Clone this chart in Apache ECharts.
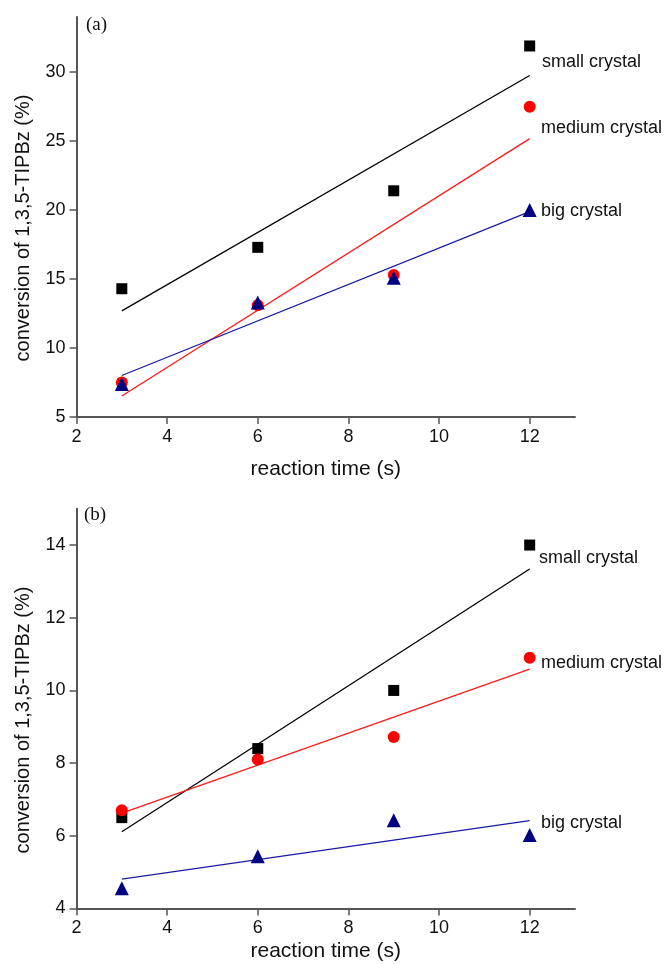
<!DOCTYPE html>
<html>
<head>
<meta charset="utf-8">
<script src="https://cdn.jsdelivr.net/npm/echarts@6/dist/echarts.min.js"></script>
<style>
  html, body { margin: 0; padding: 0; background: #fff; }
  #chart { width: 668px; height: 964px; }
</style>
</head>
<body>
<div id="chart"></div>
<script>
// Reaction times (s) shared by both panels
const times = [3, 6, 9, 12];
const xTicks = [2, 4, 6, 8, 10, 12];

// Panel (a): conversion of 1,3,5-TIPBz (%)
const aSmall  = [14.3, 17.3, 21.4, 31.9];
const aMedium = [7.5, 13.1, 15.3, 27.5];
const aBig    = [7.4, 13.3, 15.1, 20.0];
const aTicks  = [5, 10, 15, 20, 25, 30];

// Panel (b): conversion of 1,3,5-TIPBz (%)
const bSmall  = [6.5, 8.4, 10.0, 14.0];
const bMedium = [6.7, 8.1, 8.72, 10.9];
const bBig    = [4.56, 5.44, 6.43, 6.02];
const bTicks  = [4, 6, 8, 10, 12, 14];

const seriesNames = ['small crystal', 'medium crystal', 'big crystal'];

// Least-squares straight line through the points, drawn from first to last time
function fitLine(xs, ys) {
  const n = xs.length;
  const mx = xs.reduce((a, b) => a + b, 0) / n;
  const my = ys.reduce((a, b) => a + b, 0) / n;
  let sxy = 0, sxx = 0;
  for (let i = 0; i < n; i++) {
    sxy += (xs[i] - mx) * (ys[i] - my);
    sxx += (xs[i] - mx) * (xs[i] - mx);
  }
  const k = sxy / sxx;
  const b = my - k * mx;
  const x0 = xs[0], x1 = xs[n - 1];
  return [[x0, k * x0 + b], [x1, k * x1 + b]];
}

const pts = (ys) => times.map((t, i) => [t, ys[i]]);

const FONT = 'Liberation Sans, Arial, sans-serif';
const axisColor = '#555';

function xAxisFor(gridIndex, nameGap) {
  return {
    type: 'value', gridIndex, min: 2, max: 13, interval: 2,
    name: 'reaction time (s)', nameLocation: 'middle', nameGap,
    nameTextStyle: { fontFamily: FONT, fontSize: 21, color: '#111' },
    axisLine: { show: true, onZero: false, lineStyle: { color: axisColor, width: 2 } },
    axisTick: { show: true, inside: false, length: 7, customValues: xTicks, lineStyle: { color: axisColor, width: 1.5 } },
    axisLabel: { customValues: xTicks, margin: 11, fontFamily: FONT, fontSize: 18, color: '#111' },
    splitLine: { show: false }
  };
}

function yAxisFor(gridIndex, min, max, interval, ticks) {
  return {
    type: 'value', gridIndex, min, max, interval,
    axisLine: { show: true, onZero: false, lineStyle: { color: axisColor, width: 2 } },
    axisTick: { show: true, inside: false, length: 7, customValues: ticks, lineStyle: { color: axisColor, width: 1.5 } },
    axisLabel: { customValues: ticks, margin: 11, fontFamily: FONT, fontSize: 18, color: '#111' },
    splitLine: { show: false }
  };
}

const styles = [
  { symbol: 'rect', size: 11, color: '#000000', line: '#000000' },
  { symbol: 'circle', size: 12, color: '#ff0000', line: '#ff1a1a' },
  { symbol: 'triangle', size: 14, color: '#000080', line: '#1a1aa0' }
];

function panelSeries(gridIndex, groups) {
  const out = [];
  groups.forEach((ys, i) => {
    out.push({
      type: 'line', name: seriesNames[i] + ' fit', xAxisIndex: gridIndex, yAxisIndex: gridIndex,
      data: fitLine(times, ys), showSymbol: false, symbol: 'none', silent: true,
      lineStyle: { color: styles[i].line, width: 1.3 }, z: 2, animation: false
    });
  });
  groups.forEach((ys, i) => {
    out.push({
      type: 'scatter', name: seriesNames[i], xAxisIndex: gridIndex, yAxisIndex: gridIndex,
      data: pts(ys), symbol: styles[i].symbol, symbolSize: styles[i].size,
      itemStyle: { color: styles[i].color, opacity: 1 }, z: 3 + i, animation: false
    });
  });
  return out;
}

const textStyle = { fontFamily: FONT, fontSize: 18, fill: '#111' };
function note(x, y, text) {
  return { type: 'text', x, y, style: Object.assign({ text, verticalAlign: 'middle', align: 'left' }, textStyle) };
}
function panelTag(x, y, text) {
  return { type: 'text', x, y, style: { text, fontFamily: 'Liberation Serif, Times New Roman, serif', fontSize: 19, fill: '#111', verticalAlign: 'middle', align: 'left' } };
}
function yTitle(x, y) {
  return { type: 'text', x, y, rotation: Math.PI / 2,
    style: { text: 'conversion of 1,3,5-TIPBz (%)', fontFamily: FONT, fontSize: 20, fill: '#111', align: 'center', verticalAlign: 'middle' } };
}

const chart = echarts.init(document.getElementById('chart'), null, { renderer: 'canvas' });
chart.setOption({
  animation: false,
  backgroundColor: '#fff',
  grid: [
    { left: 76.5, top: 17, width: 498.5, height: 400 },
    { left: 76.5, top: 508.7, width: 498.5, height: 399.8 }
  ],
  xAxis: [xAxisFor(0, 42), xAxisFor(1, 32)],
  yAxis: [yAxisFor(0, 5, 34, 5, aTicks), yAxisFor(1, 4, 15, 2, bTicks)],
  series: panelSeries(0, [aSmall, aMedium, aBig]).concat(panelSeries(1, [bSmall, bMedium, bBig])),
  graphic: [
    panelTag(86, 25, '(a)'),
    panelTag(84, 515, '(b)'),
    yTitle(23, 228),
    yTitle(23, 720),
    note(542, 62, seriesNames[0]),
    note(541, 128, seriesNames[1]),
    note(541, 211, seriesNames[2]),
    note(539, 558, seriesNames[0]),
    note(541, 663, seriesNames[1]),
    note(541, 823, seriesNames[2])
  ]
});
</script>
</body>
</html>
